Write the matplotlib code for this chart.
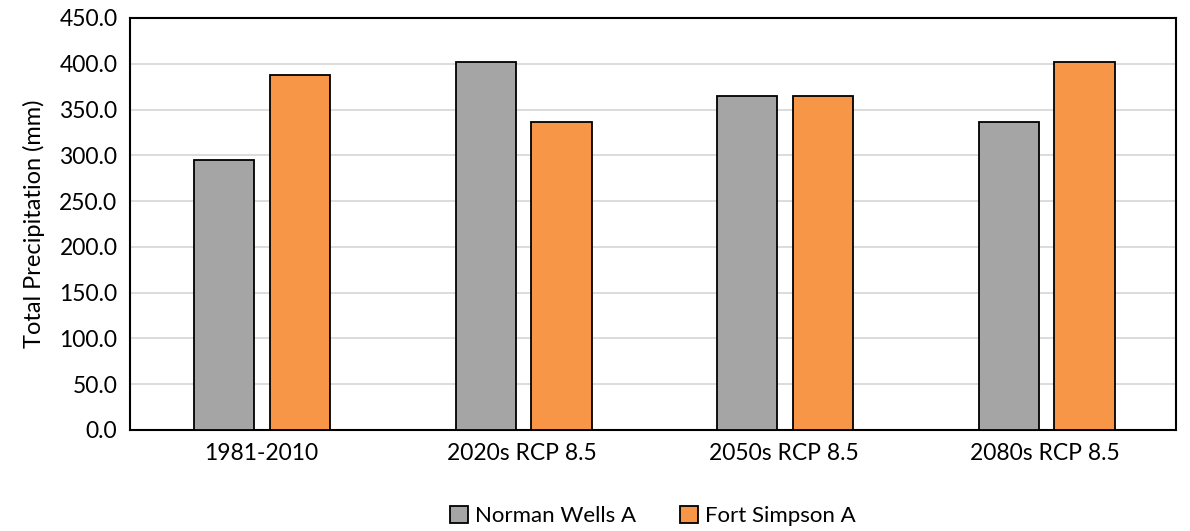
import numpy as np
import matplotlib
matplotlib.use('Agg')
import matplotlib.pyplot as plt

plt.rcParams['font.family'] = ['Lato', 'DejaVu Sans']

categories = ['1981-2010', '2020s RCP 8.5', '2050s RCP 8.5', '2080s RCP 8.5']
norman_wells = [295, 402, 365, 336]
fort_simpson = [388, 336, 365, 402]
yticks = np.arange(0, 451, 50)

fig = plt.figure(figsize=(11.9, 5.31), dpi=100)
ax = fig.add_axes([130/1190, 1 - 430/531, 1046/1190, 412/531])

x = np.arange(len(categories))
w = 0.23
ax.bar(x - 0.14, norman_wells, w, color='#a5a5a5', edgecolor='black', linewidth=1.3,
       label='Norman Wells A', zorder=3)
ax.bar(x + 0.15, fort_simpson, w, color='#f79646', edgecolor='black', linewidth=1.3,
       label='Fort Simpson A', zorder=3)

ax.set_xlim(-0.5, len(categories) - 0.5)
ax.set_ylim(0, 450)
ax.set_yticks(yticks)
ax.set_yticklabels(['%.1f' % v for v in yticks])
ax.set_xticks(x)
ax.set_xticklabels(categories)
ax.tick_params(axis='both', length=0, labelsize=16.5, pad=9)
ax.grid(axis='y', color='#d9d9d9', linewidth=1.3, zorder=0)
for s in ax.spines.values():
    s.set_linewidth(1.5)
    s.set_color('black')
ax.set_ylabel('Total Precipitation (mm)', fontsize=17, labelpad=10)

ax.legend(loc='upper center', bbox_to_anchor=(0.5, -0.135), ncol=2, frameon=False,
          fontsize=16, handlelength=0.8, handleheight=0.8, handletextpad=0.3,
          columnspacing=2.0)

plt.savefig('out.png', dpi=100)
